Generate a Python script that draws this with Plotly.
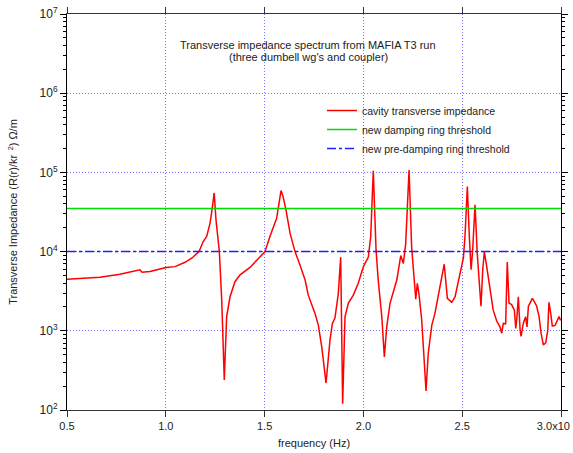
import plotly.graph_objects as go

freq_ghz = [0.500, 0.667, 0.768, 0.854, 0.869, 0.880, 0.920, 1.001, 1.047, 1.097,
            1.133, 1.168, 1.190, 1.207, 1.224, 1.234, 1.245, 1.254, 1.264, 1.271,
            1.283, 1.296, 1.308, 1.325, 1.350, 1.376, 1.426, 1.477, 1.502, 1.527,
            1.561, 1.573, 1.583, 1.593, 1.608, 1.629, 1.654, 1.679, 1.705, 1.721,
            1.755, 1.772, 1.789, 1.811, 1.831, 1.843, 1.856, 1.873, 1.885, 1.895,
            1.907, 1.924, 1.949, 1.974, 2.000, 2.025, 2.037, 2.050, 2.064, 2.075,
            2.093, 2.106, 2.118, 2.135, 2.169, 2.189, 2.202, 2.214, 2.231, 2.244,
            2.256, 2.265, 2.273, 2.281, 2.295, 2.307, 2.317, 2.328, 2.346, 2.362,
            2.379, 2.393, 2.409, 2.425, 2.447, 2.464, 2.489, 2.506, 2.514, 2.526,
            2.536, 2.545, 2.553, 2.565, 2.576, 2.587, 2.595, 2.604, 2.612, 2.624,
            2.641, 2.657, 2.675, 2.691, 2.700, 2.708, 2.720, 2.728, 2.737, 2.750,
            2.764, 2.771, 2.776, 2.784, 2.793, 2.798, 2.809, 2.821, 2.828, 2.835,
            2.843, 2.855, 2.865, 2.877, 2.889, 2.899, 2.911, 2.923, 2.933, 2.939,
            2.948, 2.956, 2.970, 2.981, 2.990, 2.998]

impedance = [4480, 4750, 5190, 5700, 5890, 5500, 5620, 6310, 6460, 7330,
             8320, 10000, 13500, 15500, 22900, 33900, 55000, 25100, 14100, 10000,
             2450, 240, 1510, 2690, 4170, 5080, 6310, 8510, 10000, 15500,
             26300, 40700, 58900, 50100, 33900, 17000, 10000, 6760, 4370, 2820,
             1660, 1170, 630, 219, 767, 1240, 1450, 2950, 8510, 120,
             1510, 2240, 2820, 3980, 6460, 8510, 15500, 104700, 10500, 4370,
             1510, 468, 1120, 2240, 4370, 8910, 7080, 12600, 107000, 11500,
             4370, 2510, 3980, 2950, 1380, 513, 174, 513, 1170, 1660,
             2690, 4170, 6920, 2570, 2290, 2690, 5370, 8320, 15500, 66100,
             15500, 5890, 10500, 38900, 9550, 3980, 2040, 5890, 10000, 6460,
             3310, 1820, 1320, 1120, 933, 1240, 1230, 7410, 2240, 2140,
             1820, 1070, 1380, 2690, 1020, 851, 1240, 1510, 1120, 2040,
             2240, 2570, 2340, 2040, 1510, 933, 661, 708, 1020, 2290,
             1660, 1150, 1170, 1380, 1510, 1350]

threshold_freq = [0.5, 3.0]
damping_ring_threshold = [35000, 35000]
predamping_ring_threshold = [10000, 10000]

x_tickvals = [0.5, 1.0, 1.5, 2.0, 2.5, 3.0]
x_ticktext = ["0.5", "1.0", "1.5", "2.0", "2.5",
              "3.0x10&nbsp;&nbsp;&nbsp;&nbsp;&nbsp;"]
y_tickvals = [1e2, 1e3, 1e4, 1e5, 1e6, 1e7]
y_ticktext = ["10<sup>2</sup>", "10<sup>3</sup>", "10<sup>4</sup>",
              "10<sup>5</sup>", "10<sup>6</sup>", "10<sup>7</sup>"]

FONT = "Liberation Sans, Arial, sans-serif"
GRID = "rgba(80,80,255,0.8)"

fig = go.Figure()
fig.add_trace(go.Scatter(x=freq_ghz, y=impedance, mode="lines",
                         name="cavity transverse impedance",
                         line=dict(color="#ff0000", width=1.5)))
fig.add_trace(go.Scatter(x=threshold_freq, y=damping_ring_threshold, mode="lines",
                         name="new damping ring threshold",
                         line=dict(color="#00dd00", width=1.5)))
fig.add_trace(go.Scatter(x=threshold_freq, y=predamping_ring_threshold, mode="lines",
                         name="new pre-damping ring threshold",
                         line=dict(color="#2020ff", width=1.5, dash="dashdot")))

W, H = 573, 453
ML, MT, MR, MB = 67, 14, 12, 43
pw, ph = W - ML - MR, H - MT - MB

def px_x(px):
    return (px - ML) / pw

def px_y(py):
    return (H - MB - py) / ph

fig.update_layout(
    width=W, height=H,
    margin=dict(l=ML, r=MR, t=MT, b=MB, autoexpand=False),
    paper_bgcolor="white", plot_bgcolor="white",
    font=dict(family=FONT, size=11, color="#222"),
    showlegend=True,
    legend=dict(x=px_x(322), y=px_y(96), xanchor="left", yanchor="top",
                bgcolor="rgba(255,255,255,0)", font=dict(size=10.5),
                tracegroupgap=0, itemwidth=30),
    annotations=[
        dict(text="Transverse impedance spectrum from MAFIA T3 run",
             x=px_x(308), y=px_y(45), xref="paper", yref="paper", showarrow=False,
             xanchor="center", yanchor="middle", font=dict(size=11)),
        dict(text="(three dumbell wg's and coupler)",
             x=px_x(308), y=px_y(57), xref="paper", yref="paper", showarrow=False,
             xanchor="center", yanchor="middle", font=dict(size=11)),
    ],
)

fig.update_xaxes(
    range=[0.5, 3.0], tickvals=x_tickvals, ticktext=x_ticktext,
    showgrid=True, gridcolor=GRID, griddash="1px,2px", gridwidth=1,
    showline=True, linecolor="#333", linewidth=1, mirror="ticks",
    ticks="outside", ticklen=6, tickcolor="#333",
    zeroline=False, automargin=False, ticklabeloverflow="allow",
    title=dict(text="frequency (Hz)", font=dict(size=11), standoff=8),
    tickfont=dict(size=11),
)
fig.update_yaxes(
    type="log", range=[2, 7], tickvals=y_tickvals, ticktext=y_ticktext,
    showgrid=True, gridcolor=GRID, griddash="1px,2px", gridwidth=1,
    showline=True, linecolor="black", linewidth=1, mirror="ticks",
    ticks="outside", ticklen=6, tickcolor="black",
    minor=dict(ticks="outside", ticklen=3, tickcolor="black", showgrid=False,
               dtick="D1"),
    zeroline=False, automargin=False, ticklabeloverflow="allow",
    title=dict(text="Transverse Impedance (R(r)/kr<sup>  2</sup>) Ω/m",
               font=dict(size=11), standoff=19),
    tickfont=dict(size=12),
)

# remove the default 8px page margin so the figure sits at the window origin
fig.write_html("out.html",
               config={"displayModeBar": False},
               post_script="document.body.style.margin='0';"
                           "document.body.style.overflow='hidden';")
